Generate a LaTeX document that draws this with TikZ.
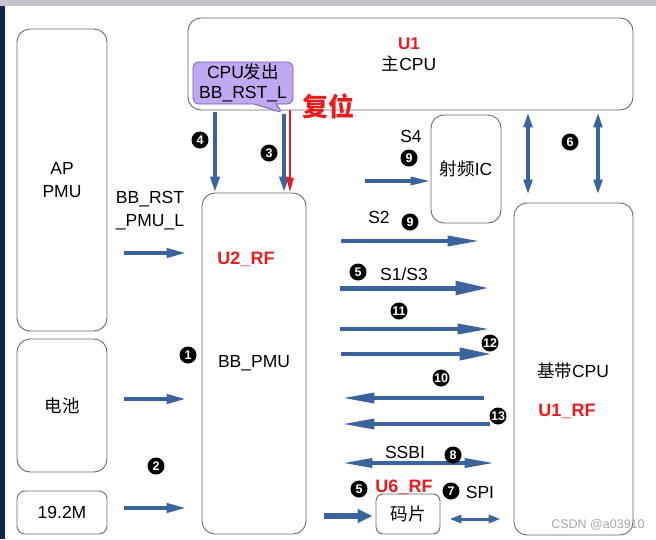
\documentclass[tikz,border=0pt]{standalone}
\usepackage{fontspec}
\setmainfont{Liberation Sans}
\newfontfamily\cjk{Noto Sans CJK SC}
\usepackage{tikz}
\usetikzlibrary{arrows.meta,positioning,shapes.callouts}
\definecolor{rsblue}{RGB}{58,100,155}
\definecolor{rsred}{RGB}{232,28,28}
\definecolor{rsgray}{RGB}{105,105,105}
\definecolor{rspurple}{RGB}{192,168,242}
\definecolor{rsedge}{RGB}{118,92,172}
\definecolor{rsbar}{RGB}{196,196,202}
\definecolor{rsnavy}{RGB}{18,34,84}

\begin{document}
\begin{tikzpicture}[x=1pt, y=-1pt,
  font=\fontsize{17.5}{23}\selectfont,
  box/.style={draw=rsgray, line width=0.9pt, rounded corners=13pt, align=center, inner sep=0pt},
  tag/.style={font=\fontsize{18}{21}\selectfont\bfseries, text=rsred},
  num/.style={circle, fill=black, text=white, inner sep=0pt, minimum size=17pt,
              font=\fontsize{12.5}{13}\selectfont\bfseries},
  arr/.style={line width=4pt, draw=rsblue, -{Triangle[length=32pt, width=10pt]}},
  varr/.style={line width=4pt, draw=rsblue, -{Triangle[length=16pt, width=9pt]}},
  dbl/.style={line width=3.5pt, draw=rsblue, {Triangle[length=15pt, width=8.5pt]}-{Triangle[length=15pt, width=8.5pt]}}
]
\useasboundingbox (0,0) rectangle (656,539);
% screen frame
\fill[rsbar] (0,0) rectangle (656,6);
\fill[rsnavy] (0,6) rectangle (5,539);

% blocks
\node[box, minimum width=90pt, minimum height=302pt] (appmu) at (62,180) {AP\\PMU};
\node[box, minimum width=90pt, minimum height=133pt] (batt) at (62,405.5) {{\cjk 电池}};
\node[box, rounded corners=8pt, minimum width=90pt, minimum height=43pt] (xtal) at (62,512.5) {19.2M};
\node[box, minimum width=445pt, minimum height=92pt] (u1) at (410.5,64) {};
\node[tag, font=\fontsize{17}{20}\selectfont\bfseries] (u1tag) at (409,44) {U1};
\node[below=-1pt of u1tag] (u1txt) {{\cjk 主}CPU};
\node[box, minimum width=104pt, minimum height=341pt] (u2) at (254,363.5) {BB\_PMU};
\node[tag] (u2tag) at (246,259) {U2\_RF};
\node[box, minimum width=70pt, minimum height=108pt] (rfic) at (466,169) {{\cjk 射频}IC};
\node[box, minimum width=119pt, minimum height=332pt] (bb) at (573.5,369) {};
\node (bbtxt) at (573,371) {{\cjk 基带}CPU};
\node[tag] (bbtag) at (567,411) {U1\_RF};
\node[box, rounded corners=7pt, minimum width=64pt, minimum height=40pt] (chip) at (408,514) {{\cjk 码片}};
\node[tag] (chiptag) at (404,487) {U6\_RF};

% callout and reset
\node[rectangle callout, fill=rspurple, draw=rsedge, line width=0.8pt, rounded corners=6pt,
      minimum width=100pt, minimum height=42pt, inner sep=1pt, align=center,
      font=\fontsize{17.5}{20}\selectfont,
      callout absolute pointer={(283,113)}, callout pointer width=22pt]
  (cpumsg) at (243,83) {CPU{\cjk 发出}\\BB\_RST\_L};
\node[text=rsred, font=\fontsize{26}{28}\selectfont\cjk\bfseries] (reset) at (328,106) {复位};

% reset lines
\coordinate (a4) at (215,112);
\draw[varr] (a4) -- (a4 |- u2.north);
\draw[varr] (cpumsg.pointer) -- (cpumsg.pointer |- u2.north);
\coordinate (ar) at (290,110);
\draw[line width=2.6pt, rsred, -{Triangle[length=15pt, width=7pt]}] (ar) -- (ar |- u2.north);
\node[num] (n4) at (200,140) {4};
\node[num] (n3) at (269,153) {3};

% inputs of U2
\coordinate (r1) at (0,253);
\coordinate (r2) at (0,399);
\coordinate (r3) at (0,508);
\draw[arr, -{Triangle[length=20pt, width=9pt]}, shorten <=17pt, shorten >=15pt] (appmu.east |- r1) -- (u2.west |- r1);
\draw[arr, -{Triangle[length=20pt, width=9pt]}, shorten <=17pt, shorten >=15pt] (batt.east |- r2) -- (u2.west |- r2);
\draw[arr, -{Triangle[length=20pt, width=9pt]}, shorten <=17pt, shorten >=15pt] (xtal.east |- r3) -- (u2.west |- r3);
\node[align=center] (rstlbl) at (150,211) {BB\_RST\\\_PMU\_L};
\node[num] (n1) at (188,355) {1};
\node[num] (n2) at (156,466) {2};

% signals to RF IC and baseband
\coordinate (s4) at (0,181);
\draw[arr, -{Triangle[length=20pt, width=8pt]}, line width=3.5pt, shorten <=59pt] (u2.east |- s4) -- (rfic.west |- s4);
\node (s4lbl) at (411,136) {S4};
\node[num] (n9a) at (409,158) {9};

\coordinate (s2) at (0,241);
\draw[arr, line width=3.5pt, shorten <=35pt, shorten >=34pt] (u2.east |- s2) -- (bb.west |- s2);
\node (s2lbl) at (379,217) {S2};
\node[num] (n9b) at (410,222) {9};

\coordinate (s13) at (0,288);
\draw[arr, line width=5pt, -{Triangle[length=34pt, width=13pt]}, shorten <=34pt, shorten >=24pt] (u2.east |- s13) -- (bb.west |- s13);
\node[num] (n5a) at (358,272) {5};
\node (s13lbl) at (404,274) {S1/S3};

\coordinate (s11) at (0,329);
\draw[arr, line width=3.5pt, shorten <=34pt, shorten >=24pt] (u2.east |- s11) -- (bb.west |- s11);
\node[num] (n11) at (399,311) {11};

\coordinate (s12) at (0,354);
\draw[arr, line width=4pt, -{Triangle[length=32pt, width=12pt]}, shorten <=35pt, shorten >=22pt] (u2.east |- s12) -- (bb.west |- s12);
\node[num] (n12) at (490,343) {12};

\coordinate (s10) at (0,398);
\draw[arr, line width=3.5pt, shorten <=30pt, shorten >=36pt] (bb.west |- s10) -- (u2.east |- s10);
\node[num] (n10) at (441,378) {10};

\coordinate (s13b) at (0,424);
\draw[arr, line width=3.5pt, shorten <=24pt, shorten >=36pt] (bb.west |- s13b) -- (u2.east |- s13b);
\node[num] (n13) at (498,416) {13};

\coordinate (ssbi) at (0,463);
\draw[dbl, {Triangle[length=30pt, width=9pt]}-{Triangle[length=30pt, width=9pt]}, shorten <=36pt, shorten >=19pt] (u2.east |- ssbi) -- (bb.west |- ssbi);
\node (ssbilbl) at (405,452) {SSBI};
\node[num] (n8) at (453,455) {8};

% code chip
\coordinate (cin) at (0,516);
\draw[line width=6pt, rsblue, -{Triangle[length=15pt, width=13pt]}, shorten <=18pt, shorten >=3pt] (u2.east |- cin) -- (chip.west |- cin);
\coordinate (spi) at (0,519);
\draw[dbl, line width=3pt, {Triangle[length=12pt, width=8pt]}-{Triangle[length=12pt, width=8pt]}, shorten <=9pt, shorten >=13pt] (chip.east |- spi) -- (bb.west |- spi);
\node[num] (n5b) at (359,489) {5};
\node[num] (n7) at (451,491) {7};
\node (spilbl) at (480,492) {SPI};

% main CPU to baseband
\coordinate (v1) at (528,0);
\coordinate (v2) at (598,0);
\draw[dbl, shorten <=2pt, shorten >=8pt] (v1 |- u1.south) -- (v1 |- bb.north);
\draw[dbl, shorten <=2pt, shorten >=8pt] (v2 |- u1.south) -- (v2 |- bb.north);
\node[num] (n6) at (570,142) {6};

\node[text=black!35, font=\fontsize{12.5}{14}\selectfont] (mark) at (598,525) {CSDN @a03910};
\end{tikzpicture}
\end{document}
